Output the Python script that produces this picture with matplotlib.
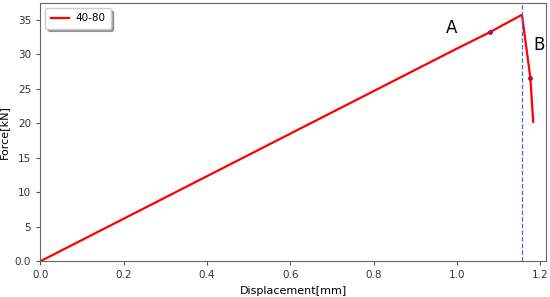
import matplotlib.pyplot as plt

# curva força x deslocamento
deslocamento = [0.0, 0.50, 1.00, 1.08, 1.156, 1.176, 1.183]
forca = [0.0, 15.4, 30.8, 33.2, 35.7, 26.6, 20.2]

# pontos marcados
marc_x = [1.08, 1.176]
marc_y = [33.2, 26.6]

pico_x = 1.156

yticks = [0, 5, 10, 15, 20, 25, 30, 35]
ytick_labels = ["0.0", "5", "10", "15", "20", "25", "30", "35"]
xticks = [0.0, 0.2, 0.4, 0.6, 0.8, 1.0, 1.2]

fig, ax = plt.subplots(figsize=(5.5, 2.97), dpi=100)
fig.subplots_adjust(left=0.073, right=0.993, top=0.99, bottom=0.12)

ax.plot(deslocamento, forca, color='red', lw=1.6, label='40-80')
ax.plot(marc_x, marc_y, 'o', color='#b0103a', ms=2.5)
ax.axvline(pico_x, color='#4a6fc0', ls='--', lw=0.9)

ax.text(0.988, 33.8, 'A', fontsize=12, ha='center', va='center')
ax.text(1.197, 31.3, 'B', fontsize=12, ha='center', va='center')

ax.set_xlim(0, 1.214)
ax.set_ylim(0, 37.4)
ax.set_xticks(xticks)
ax.set_yticks(yticks)
ax.set_yticklabels(ytick_labels)
ax.tick_params(labelsize=7.5, length=3, color='#555555', labelcolor='#333333')
for s in ax.spines.values():
    s.set_color('#666666')

ax.set_xlabel("Displacement[mm]", fontsize=8)
ax.set_ylabel("Force[kN]", fontsize=8)
ax.legend(loc='upper left', fontsize=7.5, shadow=True, fancybox=True,
          handlelength=1.8, handletextpad=0.6, borderpad=0.5)

plt.savefig("out.png")
